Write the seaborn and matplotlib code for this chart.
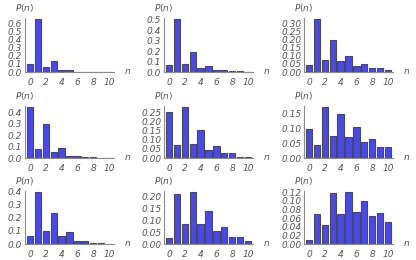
import numpy as np
import matplotlib
matplotlib.use('Agg')
import matplotlib.pyplot as plt
import seaborn as sns

n = list(range(11))

p1 = [0.10, 0.66, 0.06, 0.14, 0.02, 0.025, 0.005, 0.003, 0.002, 0.001, 0.001]
p2 = [0.07, 0.51, 0.08, 0.19, 0.04, 0.06, 0.015, 0.02, 0.008, 0.008, 0.003]
p3 = [0.045, 0.33, 0.075, 0.20, 0.065, 0.10, 0.04, 0.05, 0.022, 0.022, 0.012]
p4 = [0.45, 0.08, 0.30, 0.05, 0.09, 0.015, 0.02, 0.006, 0.006, 0.002, 0.002]
p5 = [0.25, 0.07, 0.28, 0.075, 0.15, 0.045, 0.065, 0.025, 0.025, 0.008, 0.008]
p6 = [0.10, 0.045, 0.175, 0.075, 0.15, 0.07, 0.105, 0.055, 0.065, 0.038, 0.038]
p7 = [0.06, 0.40, 0.10, 0.24, 0.06, 0.09, 0.02, 0.025, 0.005, 0.005, 0.001]
p8 = [0.025, 0.21, 0.085, 0.22, 0.085, 0.14, 0.055, 0.07, 0.03, 0.03, 0.012]
p9 = [0.01, 0.07, 0.045, 0.118, 0.07, 0.122, 0.075, 0.10, 0.065, 0.073, 0.05]

panels = [p1, p2, p3, p4, p5, p6, p7, p8, p9]
# y tick step and label format per panel
steps = [0.1, 0.1, 0.05, 0.1, 0.05, 0.05, 0.1, 0.05, 0.02]
fmts = ['%.1f', '%.1f', '%.2f', '%.1f', '%.2f', '%.2f', '%.1f', '%.2f', '%.2f']

W, H = 416, 260
lefts = [25, 164, 304]
rows = [(18, 72), (106, 158), (191, 244)]  # (top, bottom) in px
aw = 89

sns.set_style('white')
fig = plt.figure(figsize=(W / 100, H / 100), dpi=100)

tick_col = '#555555'
axis_col = '#8a8a8a'

for i, vals in enumerate(panels):
    r, c = divmod(i, 3)
    top, bot = rows[r]
    ax = fig.add_axes([lefts[c] / W, 1 - bot / H, aw / W, (bot - top) / H])
    sns.barplot(x=n, y=vals, ax=ax, native_scale=True, width=0.8,
                color='#4848ee', saturation=1, edgecolor='#4a4a4a',
                linewidth=0.8)
    ax.set_xlim(-0.65, 10.65)
    ymax = max(vals)
    ax.set_ylim(0, ymax * 1.01)
    ticks = np.arange(0, ymax + 1e-9, steps[i])
    ax.set_yticks(ticks)
    ax.set_yticklabels([fmts[i] % t for t in ticks])
    ax.set_xticks([0, 2, 4, 6, 8, 10])
    ax.set_xticklabels(['0', '2', '4', '6', '8', '10'])
    for lab in ax.get_xticklabels() + ax.get_yticklabels():
        lab.set_fontstyle('italic')
        lab.set_color(tick_col)
        lab.set_fontsize(6.5)
    ax.tick_params(axis='both', direction='in', length=2, width=0.6,
                   color=axis_col, pad=2)
    ax.tick_params(axis='x', pad=4)
    sns.despine(ax=ax)
    for s in ['left', 'bottom']:
        ax.spines[s].set_color(axis_col)
        ax.spines[s].set_linewidth(0.8)
    ax.set_xlabel('')
    ax.set_ylabel('')
    ax.annotate(r'$P(n)$', xy=(0, 1), xycoords='axes fraction',
                xytext=(0, 10), textcoords='offset pixels', ha='center',
                va='center', fontsize=6.5, color=tick_col)
    ax.annotate(r'$n$', xy=(1, 0), xycoords='axes fraction',
                xytext=(14, 0), textcoords='offset pixels', ha='center',
                va='center', fontsize=6.5, color=tick_col)

fig.savefig('out.png', dpi=100)
